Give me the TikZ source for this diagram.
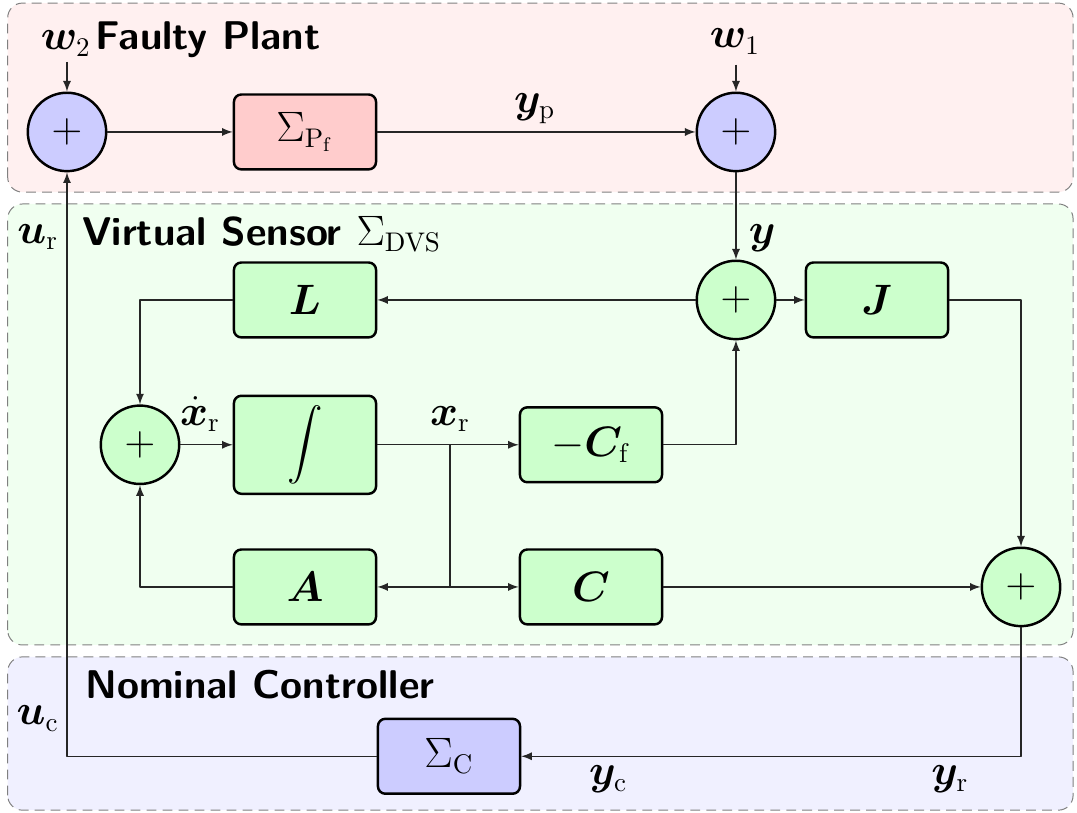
\documentclass[tikz,border=0pt]{standalone}
\usepackage{amsmath,bm}
\begin{document}
\begin{tikzpicture}[font=\fontsize{16.3}{19.5}\selectfont,line join=round,>=latex,x=1cm,y=1cm,
	block/.style={draw,line width=1pt,rounded corners=3pt,minimum width=2.03cm,minimum height=1.07cm,fill=green!20},
	sumnode/.style={draw,circle,line width=1pt,minimum size=1.12cm,inner sep=0pt,fill=green!20},
	region/.style={draw=gray,dash pattern=on 4pt off 2.5pt,rounded corners=6pt},
	title/.style={font=\fontsize{16.3}{19.5}\selectfont\sffamily\bfseries,anchor=base west,inner sep=0pt},
	lbl/.style={anchor=base,inner sep=0pt},
	wire/.style={line width=0.5pt,black!85}]
	\useasboundingbox (0,0) rectangle (15.386,11.614);
	\draw[region,fill=red!6] (0.11,8.87) rectangle (15.33,11.57);
	\draw[region,fill=green!6] (0.11,2.40) rectangle (15.33,8.70);
	\draw[region,fill=blue!6] (0.11,0.04) rectangle (15.33,2.23);
	\node[title] (tplant) at (1.36,10.9) {Faulty Plant};
	\node[title] (tsensor) at (1.17,8.11) {Virtual Sensor $\Sigma_{\mathrm{DVS}}$};
	\node[title] (tctrl) at (1.21,1.64) {Nominal Controller};
	\node[sumnode,fill=blue!20] (sumP1) at (0.957,9.729) {$+$};
	\node[block,fill=red!20] (plant) at (4.357,9.729) {$\Sigma_{\mathrm{P_f}}$};
	\node[sumnode,fill=blue!20] (sumP2) at (10.514,9.729) {$+$};
	\node[sumnode] (sumV1) at (10.514,7.329) {$+$};
	\node[block] (L) at (4.357,7.329) {$\bm{L}$};
	\node[block] (J) at (12.529,7.329) {$\bm{J}$};
	\node[sumnode] (sumV2) at (2.0,5.26) {$+$};
	\node[block,minimum height=1.4cm,font=\fontsize{13.5}{16}\selectfont] (integ) at (4.357,5.26) {$\displaystyle\int$};
	\node[block] (Cf) at (8.443,5.26) {$-\bm{C}_{\mathrm{f}}$};
	\node[block] (A) at (4.357,3.229) {$\bm{A}$};
	\node[block] (C) at (8.443,3.229) {$\bm{C}$};
	\node[sumnode] (sumV3) at (14.586,3.229) {$+$};
	\node[block,fill=blue!20] (ctrl) at (6.414,0.81) {$\Sigma_{\mathrm{C}}$};
	\coordinate (w2) at (0.957,10.73);
	\coordinate (w1) at (10.514,10.69);
	\coordinate (branch) at (6.43,5.26);
	\node[lbl] (lw2) at (0.94,10.9) {$\bm{w}_2$};
	\node[lbl] (lw1) at (10.5,10.93) {$\bm{w}_1$};
	\node[lbl] (lyp) at (7.64,10.01) {$\bm{y}_{\mathrm{p}}$};
	\node[lbl,anchor=base west] (ly) at (10.69,8.14) {$\bm{y}$};
	\node[lbl] (lur) at (0.54,8.14) {$\bm{u}_{\mathrm{r}}$};
	\node[lbl] (lxdot) at (2.857,5.54) {$\dot{\bm{x}}_{\mathrm{r}}$};
	\node[lbl] (lxr) at (6.43,5.54) {$\bm{x}_{\mathrm{r}}$};
	\node[lbl] (luc) at (0.54,1.26) {$\bm{u}_{\mathrm{c}}$};
	\node[lbl] (lyc) at (8.69,0.40) {$\bm{y}_{\mathrm{c}}$};
	\node[lbl] (lyr) at (13.57,0.40) {$\bm{y}_{\mathrm{r}}$};
	\draw[wire,->] (w2) -- (sumP1);
	\draw[wire,->] (sumP1) -- (plant);
	\draw[wire,->] (plant) -- (sumP2);
	\draw[wire,->] (w1) -- (sumP2);
	\draw[wire,->] (sumP2) -- (sumV1);
	\draw[wire,->] (sumV1) -- (L);
	\draw[wire,->] (sumV1) -- (J);
	\draw[wire,->] (L.west) -| (sumV2.north);
	\draw[wire,->] (A.west) -| (sumV2.south);
	\draw[wire,->] (sumV2) -- (integ);
	\draw[wire,->] (integ) -- (Cf);
	\draw[wire,->] (Cf.east) -| (sumV1.south);
	\draw[wire] (branch) -- (branch |- A) coordinate (branchdown);
	\draw[wire,->] (branchdown) -- (A);
	\draw[wire,->] (branchdown) -- (C);
	\draw[wire,->] (C) -- (sumV3);
	\draw[wire,->] (J.east) -| (sumV3.north);
	\draw[wire,->] (sumV3.south) |- (ctrl.east);
	\draw[wire,->] (ctrl.west) -| (sumP1.south);
\end{tikzpicture}
\end{document}
